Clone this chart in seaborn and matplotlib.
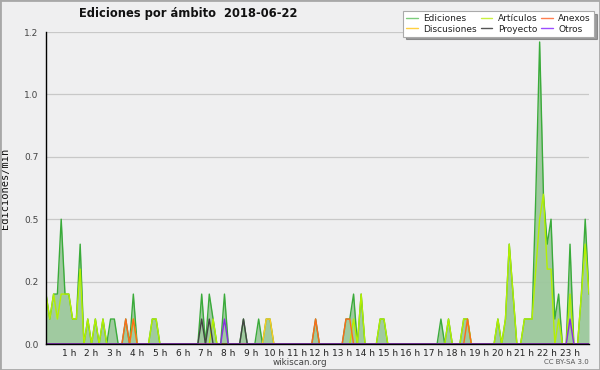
import numpy as np
import pandas as pd
import matplotlib
matplotlib.use("Agg")
import matplotlib.pyplot as plt
import seaborn as sns
from matplotlib.patches import Rectangle

# ================== Data (edits per minute, 10-minute bins) ==================
ediciones = [
    0.2, 0.1, 0.2, 0.2, 0.5, 0.2,   # 0 h
    0.2, 0.1, 0.1, 0.4, 0.0, 0.1,   # 1 h
    0.0, 0.1, 0.0, 0.1, 0.0, 0.1,   # 2 h
    0.1, 0.0, 0.0, 0.1, 0.0, 0.2,   # 3 h
    0.0, 0.0, 0.0, 0.0, 0.1, 0.1,   # 4 h
    0.0, 0.0, 0.0, 0.0, 0.0, 0.0,   # 5 h
    0.0, 0.0, 0.0, 0.0, 0.0, 0.2,   # 6 h
    0.0, 0.2, 0.1, 0.0, 0.0, 0.2,   # 7 h
    0.0, 0.0, 0.0, 0.0, 0.1, 0.0,   # 8 h
    0.0, 0.0, 0.1, 0.0, 0.1, 0.1,   # 9 h
    0.0, 0.0, 0.0, 0.0, 0.0, 0.0,   # 10 h
    0.0, 0.0, 0.0, 0.0, 0.0, 0.1,   # 11 h
    0.0, 0.0, 0.0, 0.0, 0.0, 0.0,   # 12 h
    0.0, 0.1, 0.1, 0.2, 0.0, 0.2,   # 13 h
    0.0, 0.0, 0.0, 0.0, 0.1, 0.1,   # 14 h
    0.0, 0.0, 0.0, 0.0, 0.0, 0.0,   # 15 h
    0.0, 0.0, 0.0, 0.0, 0.0, 0.0,   # 16 h
    0.0, 0.0, 0.1, 0.0, 0.1, 0.0,   # 17 h
    0.0, 0.0, 0.1, 0.1, 0.0, 0.0,   # 18 h
    0.0, 0.0, 0.0, 0.0, 0.0, 0.1,   # 19 h
    0.0, 0.1, 0.4, 0.2, 0.0, 0.0,   # 20 h
    0.1, 0.1, 0.1, 0.6, 1.21, 0.6,  # 21 h
    0.4, 0.5, 0.1, 0.2, 0.0, 0.0,   # 22 h
    0.4, 0.0, 0.0, 0.2, 0.5, 0.2,   # 23 h
]
articulos = [
    0.2, 0.1, 0.2, 0.1, 0.2, 0.2,   # 0 h
    0.2, 0.1, 0.1, 0.3, 0.0, 0.1,   # 1 h
    0.0, 0.1, 0.0, 0.1, 0.0, 0.0,   # 2 h
    0.0, 0.0, 0.0, 0.0, 0.0, 0.1,   # 3 h
    0.0, 0.0, 0.0, 0.0, 0.1, 0.1,   # 4 h
    0.0, 0.0, 0.0, 0.0, 0.0, 0.0,   # 5 h
    0.0, 0.0, 0.0, 0.0, 0.0, 0.0,   # 6 h
    0.0, 0.0, 0.1, 0.0, 0.0, 0.0,   # 7 h
    0.0, 0.0, 0.0, 0.0, 0.0, 0.0,   # 8 h
    0.0, 0.0, 0.0, 0.0, 0.0, 0.0,   # 9 h
    0.0, 0.0, 0.0, 0.0, 0.0, 0.0,   # 10 h
    0.0, 0.0, 0.0, 0.0, 0.0, 0.0,   # 11 h
    0.0, 0.0, 0.0, 0.0, 0.0, 0.0,   # 12 h
    0.0, 0.0, 0.0, 0.1, 0.0, 0.2,   # 13 h
    0.0, 0.0, 0.0, 0.0, 0.1, 0.1,   # 14 h
    0.0, 0.0, 0.0, 0.0, 0.0, 0.0,   # 15 h
    0.0, 0.0, 0.0, 0.0, 0.0, 0.0,   # 16 h
    0.0, 0.0, 0.0, 0.0, 0.1, 0.0,   # 17 h
    0.0, 0.0, 0.1, 0.1, 0.0, 0.0,   # 18 h
    0.0, 0.0, 0.0, 0.0, 0.0, 0.1,   # 19 h
    0.0, 0.1, 0.4, 0.2, 0.0, 0.0,   # 20 h
    0.1, 0.1, 0.1, 0.3, 0.5, 0.6,   # 21 h
    0.3, 0.3, 0.0, 0.1, 0.0, 0.0,   # 22 h
    0.2, 0.0, 0.0, 0.2, 0.4, 0.2,   # 23 h
]
# sparse series: bin index -> value
anexos_bins = [21, 23, 71, 79, 80, 111]
anexos_vals = [0.1, 0.1, 0.1, 0.1, 0.1, 0.1]
discusiones_bins = [58, 59]
discusiones_vals = [0.1, 0.1]
proyecto_bins = [41, 43, 52]
proyecto_vals = [0.1, 0.1, 0.1]
otros_bins = [47, 138]
otros_vals = [0.1, 0.1]

hour_labels = [f"{h} h" for h in range(1, 24)]
y_ticks = [0, 0.25, 0.5, 0.75, 1.0, 1.25]
y_labels = ["0.0", "0.2", "0.5", "0.7", "1.0", "1.2"]

# ================== Build frame ==================
n = len(ediciones)
df = pd.DataFrame({"hora": np.arange(n) / 6, "Ediciones": ediciones, "Artículos": articulos})
for name, bins, vals in [("Anexos", anexos_bins, anexos_vals),
                         ("Discusiones", discusiones_bins, discusiones_vals),
                         ("Proyecto", proyecto_bins, proyecto_vals),
                         ("Otros", otros_bins, otros_vals)]:
    df[name] = 0.0
    df.loc[bins, name] = vals

colors = {
    "Ediciones": "#3aab3a",
    "Discusiones": "#ffcc22",
    "Artículos": "#b4f000",
    "Proyecto": "#444444",
    "Anexos": "#ff6a1a",
    "Otros": "#8a2be2",
}
legend_colors = {
    "Ediciones": "#7ccc7c",
    "Discusiones": "#ffd040",
    "Artículos": "#c8f040",
    "Proyecto": "#555555",
    "Anexos": "#ff7f50",
    "Otros": "#9b4dff",
}

# ================== Plot ==================
sns.set_style("white")
plt.rcParams["font.family"] = ["DejaVu Sans"]
bg = "#efeff0"
fig = plt.figure(figsize=(6, 3.7), dpi=100, facecolor=bg)
ax = fig.add_axes([46 / 600, 26 / 370, 543 / 600, 312 / 370], facecolor=bg)

ax.fill_between(df["hora"], df["Ediciones"], color="#9cc89c", alpha=0.95, lw=0, zorder=1)
for name in ["Ediciones", "Artículos", "Discusiones", "Anexos", "Proyecto", "Otros"]:
    sns.lineplot(data=df, x="hora", y=name, color=colors[name], lw=1.0, ax=ax, zorder=2)

ax.set_xlim(0, (n - 1) / 6)
ax.set_ylim(0, 1.25)
ax.set_xticks(range(1, 24))
ax.set_xticklabels(hour_labels)
ax.set_xticks(np.arange(0, n) / 6, minor=True)
ax.set_yticks(y_ticks)
ax.set_yticklabels(y_labels)
ax.set_yticks([0.1, 0.2, 0.3, 0.4, 0.6, 0.7, 0.8, 0.9, 1.1, 1.2], minor=True)
ax.tick_params(axis="x", which="major", length=3, width=0.8, pad=0.5, labelsize=6.5, colors="#222222")
ax.tick_params(axis="x", which="minor", length=2, width=0.8, color="#222222")
ax.tick_params(axis="y", which="major", length=4, width=0.8, pad=1.5, labelsize=6.5, colors="#444444")
ax.tick_params(axis="y", which="minor", length=2, width=0.8, color="#222222")
ax.grid(axis="y", which="major", color="#c8c8c8", lw=0.9)
ax.set_axisbelow(True)
for s in ["top", "right"]:
    ax.spines[s].set_visible(False)
for s in ["left", "bottom"]:
    ax.spines[s].set_color("black")
    ax.spines[s].set_linewidth(1.0)
    ax.spines[s].set_zorder(5)
ax.set_xlabel("")
ax.set_ylabel("Ediciones/min", family="DejaVu Sans Mono", fontsize=7.5, color="#111111", labelpad=10)

fig.text(188 / 600, 1 - 14 / 370, "Ediciones por ámbito  2018-06-22", ha="center", va="center",
         fontsize=8.3, fontweight="bold", color="#111111")
fig.text(300 / 600, 1 - 362.5 / 370, "wikiscan.org", ha="center", va="center", fontsize=6.3, color="#444444")
fig.text(589 / 600, 1 - 362.5 / 370, "CC BY-SA 3.0", ha="right", va="center", fontsize=5, color="#555555")

# legend
order = ["Ediciones", "Discusiones", "Artículos", "Proyecto", "Anexos", "Otros"]
handles = [plt.Line2D([], [], color=legend_colors[k], lw=1.0) for k in order]
leg = fig.legend(handles, order, ncol=3, loc="upper right", bbox_to_anchor=(594 / 600, 1 - 11 / 370),
                 fontsize=6.5, frameon=True, fancybox=False, shadow=True, handlelength=1.3,
                 handletextpad=0.6, columnspacing=0.4, labelspacing=0.15, borderpad=0.35,
                 borderaxespad=0)
leg.get_frame().set_edgecolor("#aaaaaa")
leg.get_frame().set_linewidth(0.8)
leg.get_frame().set_facecolor("white")
for t in leg.get_texts():
    t.set_color("#222222")

fig.add_artist(Rectangle((0, 0), 1, 1, transform=fig.transFigure, fill=False,
                         edgecolor="#a8a8a8", lw=2))

fig.savefig("out.png", dpi=100, facecolor=bg)
